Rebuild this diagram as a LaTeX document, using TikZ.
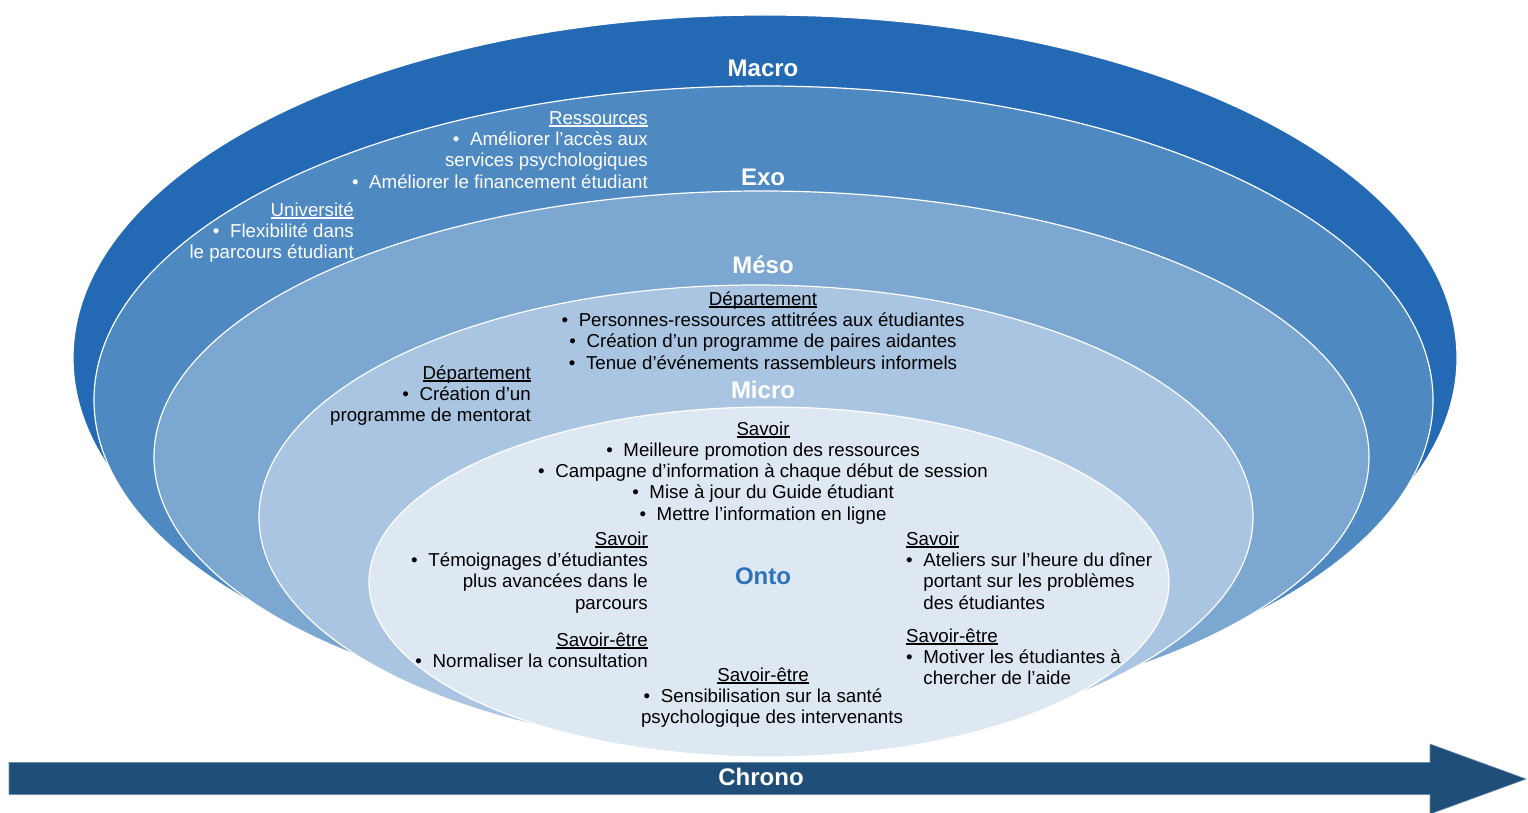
\documentclass[tikz,border=0pt]{standalone}
\usepackage{fontspec}
\setmainfont{Liberation Sans}
\definecolor{cmacro}{RGB}{35,105,179}
\definecolor{cexo}{RGB}{78,137,194}
\definecolor{cmeso}{RGB}{123,167,209}
\definecolor{cmicro}{RGB}{169,197,225}
\definecolor{conto}{RGB}{222,232,243}
\definecolor{carrow}{RGB}{31,78,121}
\definecolor{carrowedge}{RGB}{110,140,175}
\definecolor{contotxt}{RGB}{46,114,184}
\newsavebox\ulbox
\newcommand\ulx[1]{\sbox\ulbox{#1}\rlap{\rule[-2.6bp]{\wd\ulbox}{1.3bp}}\usebox\ulbox}
\newcommand\bl{\makebox[0.92em][l]{•}}
\newcommand\ind{\hspace*{0.92em}}
\tikzset{
  txt/.style={inner sep=0pt, font=\fontsize{18.7bp}{21.3bp}\selectfont},
  wtxt/.style={txt, text=white},
  btxt/.style={txt, text=black},
  ttl/.style={inner sep=0pt, font=\fontsize{24bp}{28bp}\selectfont\bfseries, text=white, anchor=base},
  ring/.style={draw=white, line width=1.2bp},
}
\begin{document}
\begin{tikzpicture}[x=1bp,y=-1bp]
\useasboundingbox (0,0) rectangle (1528,812);
% nested ellipses
\draw[ring, fill=cmacro] (765,358) ellipse [x radius=692bp, y radius=343bp];
\draw[ring, fill=cexo]   (763.5,400) ellipse [x radius=669.5bp, y radius=314bp];
\draw[ring, fill=cmeso]  (761.5,457) ellipse [x radius=607.5bp, y radius=266bp];
\draw[ring, fill=cmicro] (756,517) ellipse [x radius=497bp, y radius=232bp];
\draw[ring, fill=conto]  (769,582) ellipse [x radius=400bp, y radius=175bp];
% titles
\node[ttl] (macro) at (763,76.5) {Macro};
\node[ttl] (exo) at (763,185.5) {Exo};
\node[ttl] (meso) at (763,273.5) {Méso};
\node[ttl] (micro) at (763,398.5) {Micro};
\node[ttl, text=contotxt] (onto) at (763,584.5) {Onto};
% Exo texts (anchor = baseline of last line)
\node[wtxt, align=right, anchor=base east] (ress) at (648,188)
  {\ulx{Ressources}\\\bl Améliorer l’accès aux\\services psychologiques\\\bl Améliorer le financement étudiant};
\node[wtxt, align=right, anchor=base east] (univ) at (354,258.6)
  {\ulx{Université}\\\bl Flexibilité dans\\le parcours étudiant};
% Meso texts
\node[btxt, align=center, anchor=base] (dep1) at (763,369)
  {\ulx{Département}\\\bl Personnes-ressources attitrées aux étudiantes\\\bl Création d’un programme de paires aidantes\\\bl Tenue d’événements rassembleurs informels};
\node[btxt, align=right, anchor=base east] (dep2) at (531,421.6)
  {\ulx{Département}\\\bl Création d’un\\programme de mentorat};
% Micro / Onto texts
\node[btxt, align=center, anchor=base] (sav1) at (763,520.2)
  {\ulx{Savoir}\\\bl Meilleure promotion des ressources\\\bl Campagne d’information à chaque début de session\\\bl Mise à jour du Guide étudiant\\\bl Mettre l’information en ligne};
\node[btxt, align=right, anchor=base east] (sav2) at (648,609)
  {\ulx{Savoir}\\\bl Témoignages d’étudiantes\\plus avancées dans le\\parcours};
\node[btxt, align=left, anchor=base west] (sav3) at (906,609)
  {\ulx{Savoir}\\\bl Ateliers sur l’heure du dîner\\\ind portant sur les problèmes\\\ind des étudiantes};
\node[btxt, align=right, anchor=base east] (se1) at (648,667.3)
  {\ulx{Savoir-être}\\\bl Normaliser la consultation};
\node[btxt, align=left, anchor=base west] (se2) at (906,684.6)
  {\ulx{Savoir-être}\\\bl Motiver les étudiantes à\\\ind chercher de l’aide};
\node[btxt, align=center, anchor=base] (se3) at (763,723.6)
  {\ulx{Savoir-être}\\\bl Sensibilisation sur la santé\\\hspace*{18bp}psychologique des intervenants};
% Chrono arrow
\draw[fill=carrow, draw=carrowedge, line width=0.6bp, line join=miter]
  (9,762.5) -- (1430,762.5) -- (1430,744) -- (1526,779) -- (1430,814) -- (1430,794.5) -- (9,794.5) -- cycle;
\node[ttl] (chrono) at (761,785.5) {Chrono};
\end{tikzpicture}
\end{document}
